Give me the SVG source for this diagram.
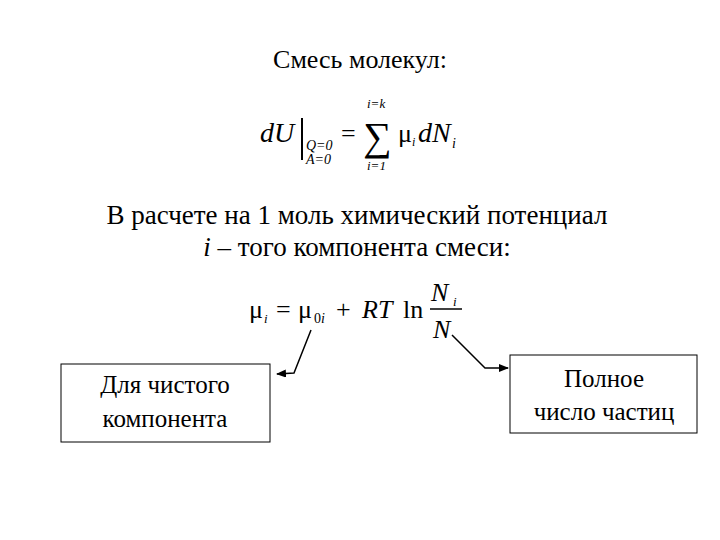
<svg xmlns="http://www.w3.org/2000/svg" width="720" height="540" viewBox="0 0 720 540">
<style>
.t{font-family:"Liberation Serif","Times New Roman","DejaVu Serif",serif;fill:#000}
.box{fill:#fff;stroke:#000;stroke-width:1}
.c{fill:none;stroke:#000;stroke-width:1.5}
</style>
<defs><marker id="a" markerWidth="10" markerHeight="8" refX="9" refY="4" orient="auto" markerUnits="userSpaceOnUse"><path d="M0,0L10,4L0,8z" fill="#000"/></marker></defs>
<rect width="720" height="540" fill="#fff"/>
<g id="title"><text class="t" x="360" y="68" font-size="26" text-anchor="middle">Смесь молекул:</text></g>
<g id="formula1" class="t">
<text x="260" y="142" font-size="28" font-style="italic">dU</text>
<line x1="302" y1="118" x2="302" y2="160" stroke="#000" stroke-width="2"/>
<text x="306" y="150" font-size="14" font-style="italic">Q=0</text>
<text x="306" y="164" font-size="14" font-style="italic">A=0</text>
<text x="341" y="142" font-size="26">=</text>
<text x="363" y="150" font-size="40">∑</text>
<text x="367" y="108" font-size="13" font-style="italic">i=k</text>
<text x="367" y="170" font-size="13" font-style="italic">i=1</text>
<text x="398" y="142" font-size="26">μ</text>
<text x="412" y="146" font-size="12" font-style="italic">i</text>
<text x="418" y="142" font-size="28" font-style="italic">dN</text>
<text x="452" y="148" font-size="14" font-style="italic">i</text>
</g>
<g id="text2" class="t" font-size="27">
<text x="357" y="224" text-anchor="middle">В расчете на 1 моль химический потенциал</text>
<text x="357" y="256" text-anchor="middle"><tspan font-style="italic">i</tspan> – того компонента смеси:</text>
</g>
<g id="formula2" class="t">
<text x="249" y="318" font-size="26">μ</text>
<text x="264" y="323" font-size="13" font-style="italic">i</text>
<text x="276" y="318" font-size="26">=</text>
<text x="298" y="318" font-size="26">μ</text>
<text x="314" y="323" font-size="14">0<tspan font-style="italic">i</tspan></text>
<text x="336" y="318" font-size="26">+</text>
<text x="362" y="318" font-size="26" font-style="italic">RT</text>
<text x="403" y="318" font-size="26">ln</text>
<text x="431" y="301" font-size="26" font-style="italic">N</text>
<text x="453" y="306" font-size="13" font-style="italic">i</text>
<line x1="430" y1="309" x2="462" y2="309" stroke="#000" stroke-width="1.5"/>
<text x="433" y="338" font-size="26" font-style="italic">N</text>
</g>
<g id="left"><rect class="box" x="61" y="364" width="209" height="78"/>
<text class="t" x="165" y="393" font-size="25" text-anchor="middle">Для чистого</text>
<text class="t" x="165" y="427" font-size="25" text-anchor="middle">компонента</text></g>
<g id="right"><rect class="box" x="510" y="355" width="187" height="78"/>
<text class="t" x="604" y="387" font-size="25" text-anchor="middle">Полное</text>
<text class="t" x="604" y="420" font-size="25" text-anchor="middle">число частиц</text></g>
<g id="connectors">
<polyline class="c" points="311,330 294,373 277,374" marker-end="url(#a)"/>
<polyline class="c" points="452,335 485,368 508,368" marker-end="url(#a)"/>
</g>
</svg>
